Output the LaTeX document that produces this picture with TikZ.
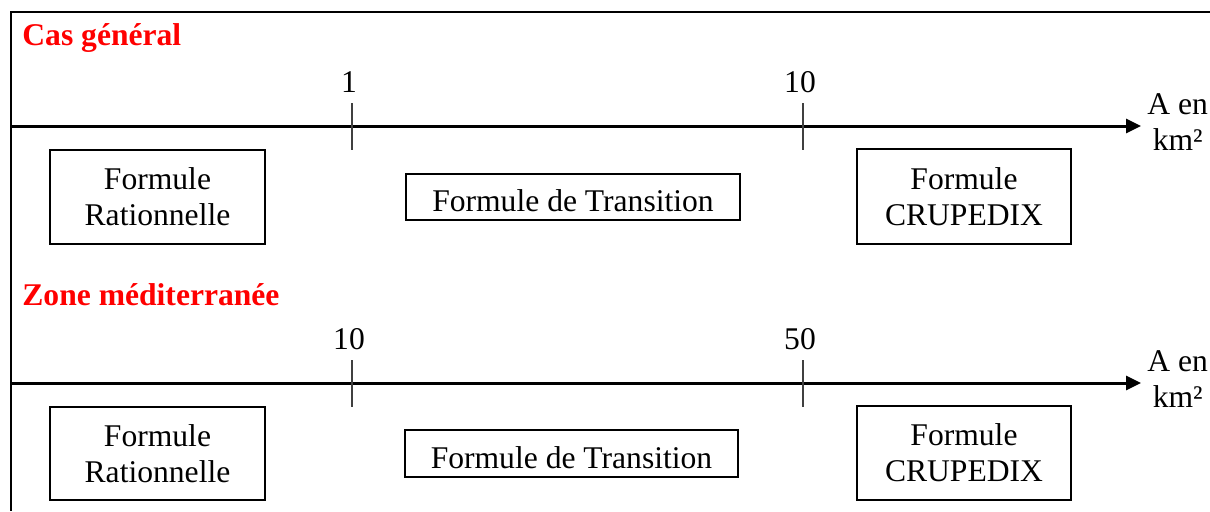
\documentclass[tikz,border=0pt]{standalone}
\usepackage{fontspec}
\setmainfont{Liberation Serif}
\usetikzlibrary{arrows.meta, positioning}

\begin{document}
\begin{tikzpicture}[x=0.5pt, y=-0.5pt, >={Triangle[length=7.5pt, width=7pt]}]
        % Styles
        \tikzstyle{box} = [draw, rectangle, align=center, line width=0.75pt, inner sep=0pt, font=\fontsize{15.8}{18}\selectfont]
        \tikzstyle{title} = [anchor=west, inner sep=0pt, text=red, font=\fontsize{15.8}{18}\selectfont\bfseries]
        \tikzstyle{axis} = [->, line width=1.5pt]
        \tikzstyle{tick} = [line width=0.75pt, black!75]
        \tikzstyle{ticklabel} = [above=5pt, xshift=-1.5pt, inner sep=0pt, font=\fontsize{15.8}{18}\selectfont]
        \tikzstyle{unit} = [right=3pt, yshift=2pt, align=center, inner sep=0pt, font=\fontsize{15.8}{18}\selectfont]

        \useasboundingbox (0,0) rectangle (1210,511);

        % Frame
        \coordinate (frametl) at (11,12);
        \coordinate (frametr) at (1210,12);
        \coordinate (framebl) at (11,511);
        \draw[line width=1.2pt] (frametr) -- (frametl) -- (framebl);

        % Cas general
        \node[title] (cas) at (22,38) {Cas général};
        \coordinate (axisAs) at (11,126);
        \coordinate (axisAe) at (1141,126);
        \draw[axis] (axisAs) -- (axisAe);
        \node[unit] (unitA) at (axisAe) {A en\\km²};
        \coordinate (tickAat) at (352,103);
        \coordinate (tickAab) at (352,150);
        \coordinate (tickAbt) at (803,103);
        \coordinate (tickAbb) at (803,150);
        \draw[tick] (tickAat) -- (tickAab);
        \draw[tick] (tickAbt) -- (tickAbb);
        \node[ticklabel] (labAa) at (tickAat) {1};
        \node[ticklabel] (labAb) at (tickAbt) {10};
        \node[box, minimum width=107.5pt, minimum height=47pt] (ratioA) at (157.5,197) {Formule\\Rationnelle};
        \node[box, minimum width=167pt, minimum height=23pt, text height=15pt] (transA) at (573,197) {Formule de Transition};
        \node[box, minimum width=107pt, minimum height=47.5pt] (crupA) at (964,196.5) {Formule\\CRUPEDIX};

        % Zone mediterranee
        \node[title] (zone) at (22,295) {Zone méditerranée};
        \coordinate (axisBs) at (11,383);
        \coordinate (axisBe) at (1141,383);
        \draw[axis] (axisBs) -- (axisBe);
        \node[unit] (unitB) at (axisBe) {A en\\km²};
        \coordinate (tickBat) at (352,360);
        \coordinate (tickBab) at (352,407);
        \coordinate (tickBbt) at (803,360);
        \coordinate (tickBbb) at (803,407);
        \draw[tick] (tickBat) -- (tickBab);
        \draw[tick] (tickBbt) -- (tickBbb);
        \node[ticklabel] (labBa) at (tickBat) {10};
        \node[ticklabel] (labBb) at (tickBbt) {50};
        \node[box, minimum width=107.5pt, minimum height=46.5pt] (ratioB) at (157.5,453.5) {Formule\\Rationnelle};
        \node[box, minimum width=166.5pt, minimum height=23.5pt, text height=15pt] (transB) at (571.5,453.5) {Formule de Transition};
        \node[box, minimum width=107pt, minimum height=47pt] (crupB) at (964,453) {Formule\\CRUPEDIX};
    \end{tikzpicture}
\end{document}
